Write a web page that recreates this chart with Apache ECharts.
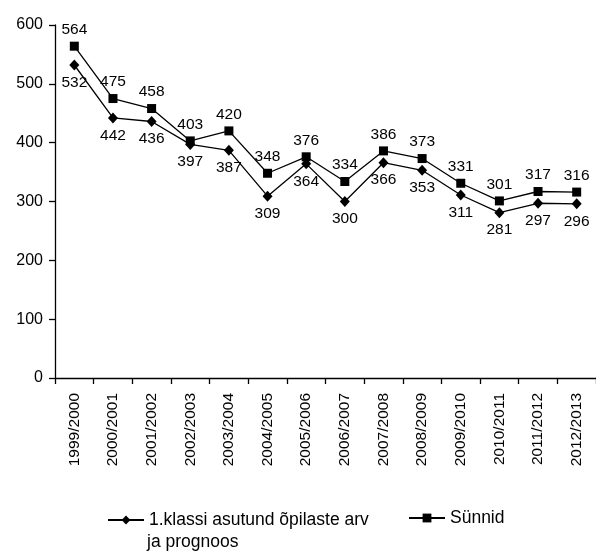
<!DOCTYPE html>
<html>
<head>
<meta charset="utf-8">
<script src="https://cdn.jsdelivr.net/npm/echarts@6/dist/echarts.min.js"></script>
<style>html,body{margin:0;padding:0;background:#fff;}#c{width:596px;height:560px;}</style>
</head>
<body>
<div id="c"></div>
<script>
var categories = ['1999/2000','2000/2001','2001/2002','2002/2003','2003/2004','2004/2005','2005/2006','2006/2007','2007/2008','2008/2009','2009/2010','2010/2011','2011/2012','2012/2013'];
var klassiName = '1.klassi asutund õpilaste arv ja prognoos';
var klassi = [532, 442, 436, 397, 387, 309, 364, 300, 366, 353, 311, 281, 297, 296];
var synnidName = 'Sünnid';
var synnid = [564, 475, 458, 403, 420, 348, 376, 334, 386, 373, 331, 301, 317, 316];
var yTicks = [0, 100, 200, 300, 400, 500, 600];

var FONT = 'Liberation Sans';
var chart = echarts.init(document.getElementById('c'));
chart.setOption({
  animation: false,
  backgroundColor: '#fff',
  textStyle: { fontFamily: FONT, color: '#000' },
  grid: { left: 55, width: 545, top: 25, bottom: 182, containLabel: false },
  xAxis: {
    type: 'category',
    data: categories,
    boundaryGap: true,
    axisLine: { lineStyle: { color: '#000', width: 1.3 } },
    axisTick: { show: true, length: 6, alignWithLabel: false, lineStyle: { color: '#000', width: 1.3 } },
    axisLabel: { rotate: 90, margin: 15, fontSize: 15.5, color: '#000', fontFamily: FONT, interval: 0 }
  },
  yAxis: {
    type: 'value',
    min: yTicks[0],
    max: yTicks[yTicks.length - 1],
    interval: 100,
    axisLine: { show: true, lineStyle: { color: '#000', width: 1.3 } },
    axisTick: { show: true, length: 6, lineStyle: { color: '#000', width: 1.3 } },
    splitLine: { show: false },
    axisLabel: { margin: 12, fontSize: 16, color: '#000', fontFamily: FONT }
  },
  legend: [
    {
      data: [klassiName],
      left: 107, top: 511, padding: 0,
      itemWidth: 36, itemHeight: 11, itemGap: 5,
      formatter: function () { return '1.klassi asutund õpilaste arv'; },
      textStyle: { fontSize: 17.5, color: '#000', fontFamily: FONT }
    },
    {
      data: [synnidName],
      left: 408, top: 509, padding: 0,
      itemWidth: 36, itemHeight: 11, itemGap: 5,
      textStyle: { fontSize: 17.5, color: '#000', fontFamily: FONT }
    }
  ],
  graphic: [
    { type: 'text', left: 147, top: 533, style: { text: 'ja prognoos', fontSize: 17.5, fontFamily: FONT, fill: '#000' } }
  ],
  series: [
    {
      name: klassiName,
      type: 'line',
      data: klassi,
      symbol: 'diamond',
      symbolSize: [10, 11],
      itemStyle: { color: '#000' },
      lineStyle: { color: '#000', width: 1.3 },
      label: { show: true, position: 'bottom', distance: 4, fontSize: 15.5, color: '#000', fontFamily: FONT }
    },
    {
      name: synnidName,
      type: 'line',
      data: synnid,
      symbol: 'rect',
      symbolSize: 9,
      itemStyle: { color: '#000' },
      lineStyle: { color: '#000', width: 1.3 },
      label: { show: true, position: 'top', distance: 4, fontSize: 15.5, color: '#000', fontFamily: FONT }
    }
  ]
});
</script>
</body>
</html>
